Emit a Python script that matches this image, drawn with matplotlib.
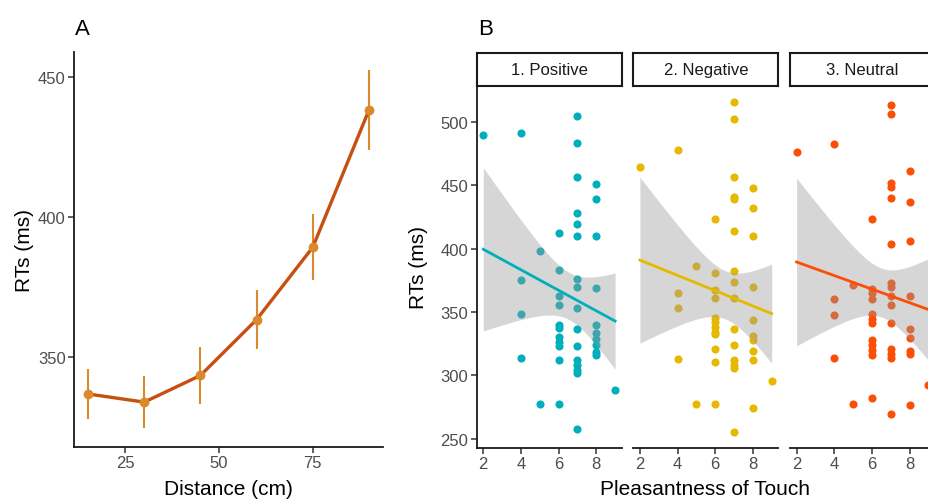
import numpy as np
import matplotlib
matplotlib.use("Agg")
import matplotlib.pyplot as plt

plt.rcParams['font.family'] = ['Liberation Sans', 'DejaVu Sans']

# panel A: mean RTs by distance, with error bars
distance = [15, 30, 45, 60, 75, 90]
rt_mean = [336.9, 334.0, 343.5, 363.4, 389.2, 438.1]
rt_err = [9.0, 9.4, 10.0, 10.4, 11.7, 14.2]

# panel B: RTs against pleasantness of touch, one facet per valence
pos_x = [2, 4, 4, 4, 4, 5, 5,
         6, 6, 6, 6, 6, 6, 6, 6, 6, 6, 6,
         7, 7, 7, 7, 7, 7, 7, 7, 7, 7, 7, 7, 7, 7, 7, 7,
         8, 8, 8, 8, 8, 8, 8, 8, 8, 8, 9]
pos_y = [490, 491.6, 375, 348.7, 314, 398, 277,
         412.4, 383.4, 362.6, 355.8, 340, 337.4, 330, 326.3, 323, 312.4, 277,
         504.7, 483.4, 456.8, 428.4, 419.7, 409.7, 376.3, 369.7, 353, 336.8, 323, 311.8, 308, 304, 301.8, 257.4,
         451.3, 439.5, 410, 369, 340, 333, 329, 324, 318.4, 316, 288]

neg_x = [2, 4, 4, 4, 4, 5, 5,
         6, 6, 6, 6, 6, 6, 6, 6, 6, 6, 6, 6,
         7, 7, 7, 7, 7, 7, 7, 7, 7, 7, 7, 7, 7, 7, 7,
         8, 8, 8, 8, 8, 8, 8, 8, 8, 8, 9]
neg_y = [464.5, 478.2, 365, 353, 313, 386.3, 277,
         423.4, 380.8, 367, 361, 345, 342, 338, 334, 332.4, 321, 310.5, 277.6,
         515.8, 502.6, 457, 440.8, 439.5, 413.7, 382.4, 374, 361, 336.3, 324.2, 311.8, 308.4, 305.8, 255.3,
         448, 432.4, 410, 369.5, 343.4, 331, 328, 319, 312.4, 274.2, 295.5]

neu_x = [2, 4, 4, 4, 4, 5, 5,
         6, 6, 6, 6, 6, 6, 6, 6, 6, 6, 6, 6,
         7, 7, 7, 7, 7, 7, 7, 7, 7, 7, 7, 7, 7, 7, 7,
         8, 8, 8, 8, 8, 8, 8, 8, 8, 9]
neu_y = [476.3, 483, 360.5, 347.4, 314, 371, 277,
         423.7, 368, 365, 360.5, 348, 344.7, 341.6, 327.6, 323.7, 319.7, 315.8, 282.4,
         513.9, 506.6, 451.8, 448.7, 440, 404, 373, 369.7, 362.6, 355.3, 341.3, 321, 317, 313.7, 269.2,
         461.3, 436.8, 405.8, 363, 336.8, 329.7, 319.2, 317, 276.3, 292]

facet_names = ["1. Positive", "2. Negative", "3. Neutral"]
facet_colors = ["#00AFBB", "#E7B800", "#FC4E07"]

W, H = 929, 502
fig = plt.figure(figsize=(W / 100, H / 100), dpi=100)

tick_col = "#4D4D4D"
title_fs = 15
tick_fs = 12


def px_axes(left, top, right, bottom):
    return fig.add_axes([left / W, 1 - bottom / H, (right - left) / W, (bottom - top) / H])


def style(ax, left_spine=True):
    for s in ["top", "right"]:
        ax.spines[s].set_visible(False)
    ax.spines["left"].set_visible(left_spine)
    for s in ["left", "bottom"]:
        ax.spines[s].set_linewidth(1.3)
        ax.spines[s].set_color("#1A1A1A")
    ax.tick_params(colors="#333333", labelcolor=tick_col, labelsize=tick_fs, length=4, width=1.1, pad=2)


# ---- panel A ----
axA = px_axes(74, 53, 383, 448)
axA.errorbar(distance, rt_mean, yerr=rt_err, fmt="none", ecolor="#DA8A2C", elinewidth=1.5, zorder=2)
axA.plot(distance, rt_mean, color="#C6500F", lw=2.4, zorder=3)
axA.scatter(distance, rt_mean, color="#DA8A2C", s=50, zorder=4, linewidths=0)
axA.set_xlim(11.25, 93.75)
axA.set_ylim(318, 458.8)
axA.set_xticks([25, 50, 75])
axA.set_yticks([350, 400, 450])
style(axA)
axA.set_xlabel("Distance (cm)", fontsize=title_fs)
axA.set_ylabel("RTs (ms)", fontsize=title_fs)
axA.xaxis.set_label_coords(0.5, -(490 - 448) / 395, transform=axA.transAxes)
axA.yaxis.set_label_coords(-(74 - 24) / 309, 0.5, transform=axA.transAxes)
axA.xaxis.label.set_va("center")
axA.yaxis.label.set_va("center")
fig.text(75 / W, 1 - 30 / H, "A", fontsize=16, va="center", ha="left")

# ---- panel B ----
data = [(pos_x, pos_y), (neg_x, neg_y), (neu_x, neu_y)]
lefts = [476.7, 633.3, 790]
fw = 145
tq = 2.015  # t quantile, 97.5%, df ~ 43
for i, ((xs, ys), name, col, left) in enumerate(zip(data, facet_names, facet_colors, lefts)):
    ax = px_axes(left, 86.7, left + fw, 449)
    xs = np.array(xs, float)
    ys = np.array(ys, float)
    ax.scatter(xs, ys, color=col, s=34, linewidths=0, zorder=2)
    # linear fit with 95% confidence band
    b, a = np.polyfit(xs, ys, 1)
    n = len(xs)
    res = ys - (a + b * xs)
    sigma = np.sqrt(np.sum(res ** 2) / (n - 2))
    xg = np.linspace(xs.min(), xs.max(), 80)
    se = sigma * np.sqrt(1 / n + (xg - xs.mean()) ** 2 / np.sum((xs - xs.mean()) ** 2))
    fit = a + b * xg
    ax.fill_between(xg, fit - tq * se, fit + tq * se, color="#999999", alpha=0.4, lw=0, zorder=3)
    ax.plot(xg, fit, color=col, lw=2.0, zorder=4)
    ax.set_xlim(1.65, 9.35)
    ax.set_ylim(242.5, 528.8)
    ax.set_xticks([2, 4, 6, 8])
    ax.set_yticks([250, 300, 350, 400, 450, 500])
    style(ax, left_spine=(i == 0))
    if i == 0:
        ax.set_ylabel("RTs (ms)", fontsize=title_fs)
        ax.yaxis.set_label_coords(-(476.7 - 419) / fw, 0.5, transform=ax.transAxes)
        ax.yaxis.label.set_va("center")
    else:
        ax.tick_params(axis="y", left=False, labelleft=False)
    # strip
    sax = px_axes(left, 54, left + fw, 86.7)
    sax.set_xticks([])
    sax.set_yticks([])
    for s in sax.spines.values():
        s.set_linewidth(1.5)
        s.set_color("#1A1A1A")
    sax.text(0.5, 0.5, name, ha="center", va="center", fontsize=tick_fs, color="#1A1A1A",
             transform=sax.transAxes)

fig.text(705 / W, 1 - 490 / H, "Pleasantness of Touch", fontsize=title_fs, ha="center", va="center")
fig.text(478 / W, 1 - 30 / H, "B", fontsize=16, va="center", ha="left")

fig.savefig("out.png", dpi=100)
